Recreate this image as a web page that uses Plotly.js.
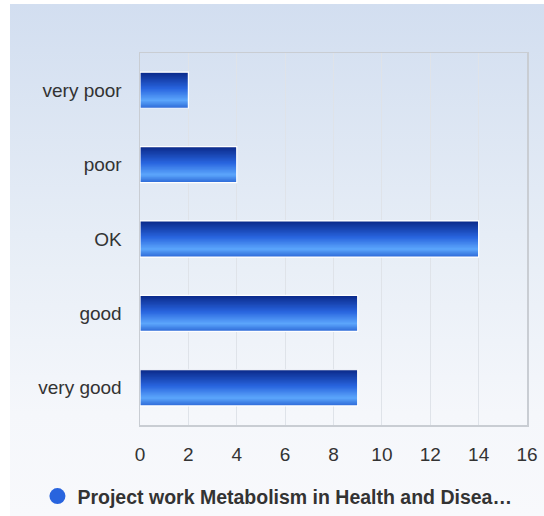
<!DOCTYPE html>
<html>
<head>
<meta charset="utf-8">
<script src="https://cdn.plot.ly/plotly-3.0.1.min.js"></script>
<style>
  html, body { margin: 0; padding: 0; background: #ffffff; }
  #bg { position: absolute; left: 10px; top: 4px; width: 534px; height: 512px;
        background: linear-gradient(to bottom, #d2def0 0%, #e6edf6 45%, #f5f7fb 80%, #f8f9fc 100%); }
  #chart { position: absolute; left: 0; top: 0; width: 544px; height: 516px; }
</style>
</head>
<body>
<div id="bg"></div>
<div id="chart"></div>
<script>
// ---- data ----
const categories = ["very poor", "poor", "OK", "good", "very good"];
const counts = [2, 4, 14, 9, 9];
const seriesName = "Project work Metabolism in Health and Disea\u2026";
const xTicks = [0, 2, 4, 6, 8, 10, 12, 14, 16];

// ---- styling: vertical gradient emulated with stacked stripes ----
const stops = [[0, [10, 40, 135]], [0.45, [40, 100, 222]], [0.78, [92, 166, 252]], [1, [44, 104, 214]]];
function colorAt(t) {
  for (let i = 0; i < stops.length - 1; i++) {
    const [t0, c0] = stops[i], [t1, c1] = stops[i + 1];
    if (t >= t0 && t <= t1) {
      const f = (t - t0) / (t1 - t0);
      const c = c0.map((v, j) => Math.round(v + (c1[j] - v) * f));
      return `rgb(${c[0]},${c[1]},${c[2]})`;
    }
  }
  return "rgb(44,104,214)";
}
const W = 0.485, N = 30;
const traces = [];
for (let k = 0; k < N; k++) {
  const off = -W / 2 + k * W / N;
  const w = Math.min(W / N * 2.5, W / 2 - off);
  traces.push({
    type: "bar", orientation: "h",
    x: counts, y: categories,
    width: w, offset: off,
    marker: { color: colorAt((k + 0.5) / N), line: { width: 0 } },
    showlegend: false, hoverinfo: "skip"
  });
}
// white outline
traces.push({
  type: "bar", orientation: "h",
  x: counts, y: categories, width: W, offset: -W / 2,
  marker: { color: "rgba(0,0,0,0)", line: { color: "#ffffff", width: 1.2 } },
  showlegend: false, hoverinfo: "skip"
});
// legend entry
traces.push({
  type: "scatter", mode: "markers", x: [null], y: [null],
  name: seriesName,
  marker: { symbol: "circle", size: 20, color: "rgb(40,100,222)" },
  showlegend: true
});

const layout = {
  width: 544, height: 516,
  margin: { l: 140, r: 17, t: 53, b: 91 },
  paper_bgcolor: "rgba(0,0,0,0)",
  plot_bgcolor: "rgba(0,0,0,0)",
  barmode: "overlay",
  font: { family: "Liberation Sans, Arial, sans-serif", color: "#333333", size: 19 },
  xaxis: {
    range: [0, 16], tickvals: xTicks, ticktext: xTicks.map(String),
    showgrid: true, gridcolor: "#dfe3e9", gridwidth: 1,
    showline: true, mirror: true, linecolor: "#c9cdd3", linewidth: 1.5,
    zeroline: false, ticks: "", ticklabelstandoff: 12,
    tickfont: { size: 19, color: "#333333" }, fixedrange: true
  },
  yaxis: {
    type: "category", categoryorder: "array", categoryarray: categories,
    autorange: "reversed",
    showgrid: false,
    showline: true, mirror: true, linecolor: "#c9cdd3", linewidth: 1.5,
    zeroline: false, ticks: "", ticklabelstandoff: 13,
    tickfont: { size: 19, color: "#333333" }, fixedrange: true
  },
  showlegend: true,
  legend: {
    orientation: "h", xref: "container", yref: "container",
    x: 0.51, xanchor: "center", y: 0.038, yanchor: "middle",
    font: { size: 19.5, color: "#333333", family: "Liberation Sans, Arial, sans-serif", weight: "bold" },
    bgcolor: "rgba(0,0,0,0)", itemwidth: 20
  }
};

Plotly.newPlot("chart", traces, layout, { displayModeBar: false, staticPlot: true });
</script>
</body>
</html>
